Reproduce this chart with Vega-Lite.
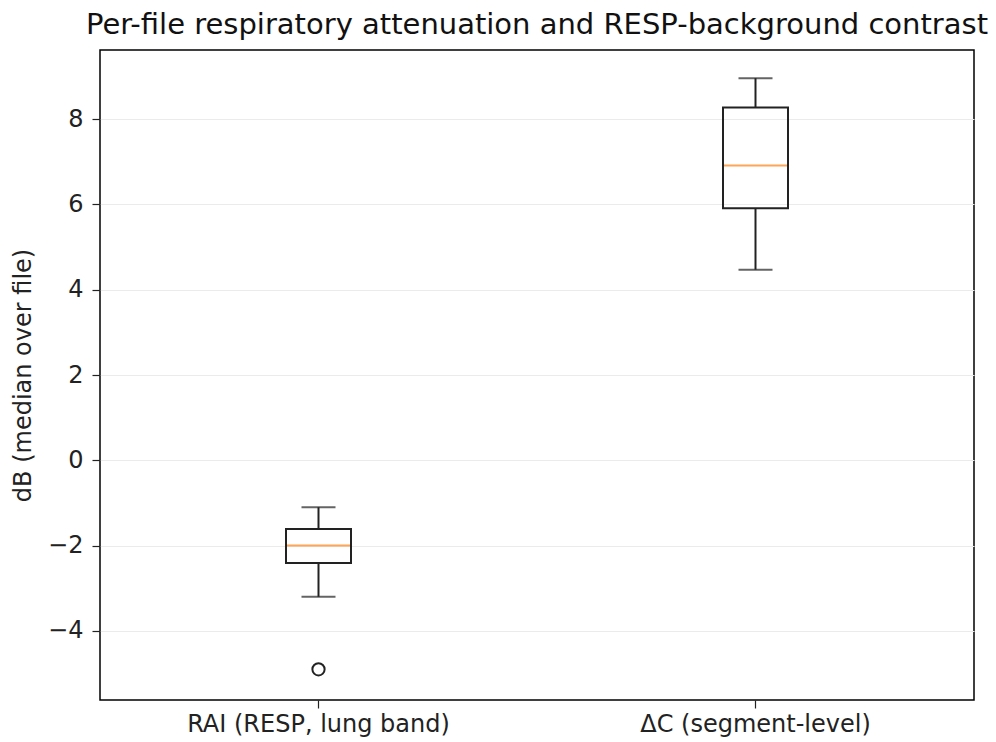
{
  "$schema": "https://vega.github.io/schema/vega-lite/v6.json",
  "width": 874,
  "height": 650,
  "autosize": {"type": "none"},
  "padding": {"left": 100, "top": 50, "right": 22, "bottom": 42},
  "background": "white",
  "config": {
    "font": "DejaVu Sans",
    "view": {"stroke": "black", "strokeWidth": 1.5},
    "axis": {"labelFont": "DejaVu Sans", "titleFont": "DejaVu Sans", "labelColor": "#222", "titleColor": "#222", "tickColor": "#222"}
  },
  "title": {"text": "Per-file respiratory attenuation and RESP-background contrast", "fontSize": 29, "font": "DejaVu Sans", "fontWeight": "normal", "color": "#111", "anchor": "middle", "offset": 10},
  "datasets": {
    "stats": [
      {"group": "RAI (RESP, lung band)", "lower": -3.2, "q1": -2.41, "median": -2.0, "q3": -1.61, "upper": -1.1},
      {"group": "ΔC (segment-level)", "lower": 4.47, "q1": 5.91, "median": 6.91, "q3": 8.27, "upper": 8.96}
    ],
    "outliers": [
      {"group": "RAI (RESP, lung band)", "value": -4.9}
    ]
  },
  "encoding": {
    "x": {"field": "group", "type": "nominal", "sort": null,
      "scale": {"domain": ["RAI (RESP, lung band)", "ΔC (segment-level)"], "paddingInner": 0, "paddingOuter": 0},
      "axis": {"title": null, "labelAngle": 0, "labelFontSize": 24, "labelLimit": 0, "tickSize": 8, "labelPadding": 4, "domain": false, "grid": false, "tickWidth": 1.2}}
  },
  "layer": [
    {
      "data": {"name": "stats"},
      "mark": {"type": "rule", "color": "#222", "strokeWidth": 2},
      "encoding": {
        "y": {"field": "lower", "type": "quantitative",
          "scale": {"domain": [-5.62, 9.62], "nice": false, "zero": false},
          "axis": {"title": "dB (median over file)", "titleFontSize": 24, "titleFontWeight": "normal", "titlePadding": 12, "labelFontSize": 24, "values": [-4, -2, 0, 2, 4, 6, 8], "tickSize": 8, "labelPadding": 9, "domain": false, "grid": true, "gridColor": "#ebebeb", "gridWidth": 1.2, "tickWidth": 1.2}},
        "y2": {"field": "q1"}
      }
    },
    {
      "data": {"name": "stats"},
      "mark": {"type": "rule", "color": "#222", "strokeWidth": 2},
      "encoding": {
        "y": {"field": "q3", "type": "quantitative"},
        "y2": {"field": "upper"}
      }
    },
    {
      "data": {"name": "stats"},
      "mark": {"type": "tick", "color": "#222", "thickness": 2, "size": 34},
      "encoding": {"y": {"field": "lower", "type": "quantitative"}}
    },
    {
      "data": {"name": "stats"},
      "mark": {"type": "tick", "color": "#222", "thickness": 2, "size": 34},
      "encoding": {"y": {"field": "upper", "type": "quantitative"}}
    },
    {
      "data": {"name": "stats"},
      "mark": {"type": "bar", "fill": "white", "fillOpacity": 0, "stroke": "#222", "strokeWidth": 2, "size": 65},
      "encoding": {
        "y": {"field": "q1", "type": "quantitative"},
        "y2": {"field": "q3"}
      }
    },
    {
      "data": {"name": "stats"},
      "mark": {"type": "tick", "color": "#ff7f0e", "thickness": 2, "size": 63},
      "encoding": {"y": {"field": "median", "type": "quantitative"}}
    },
    {
      "data": {"name": "outliers"},
      "mark": {"type": "point", "shape": "circle", "filled": false, "stroke": "#222", "strokeWidth": 2, "size": 150, "opacity": 1},
      "encoding": {"y": {"field": "value", "type": "quantitative"}}
    }
  ]
}
